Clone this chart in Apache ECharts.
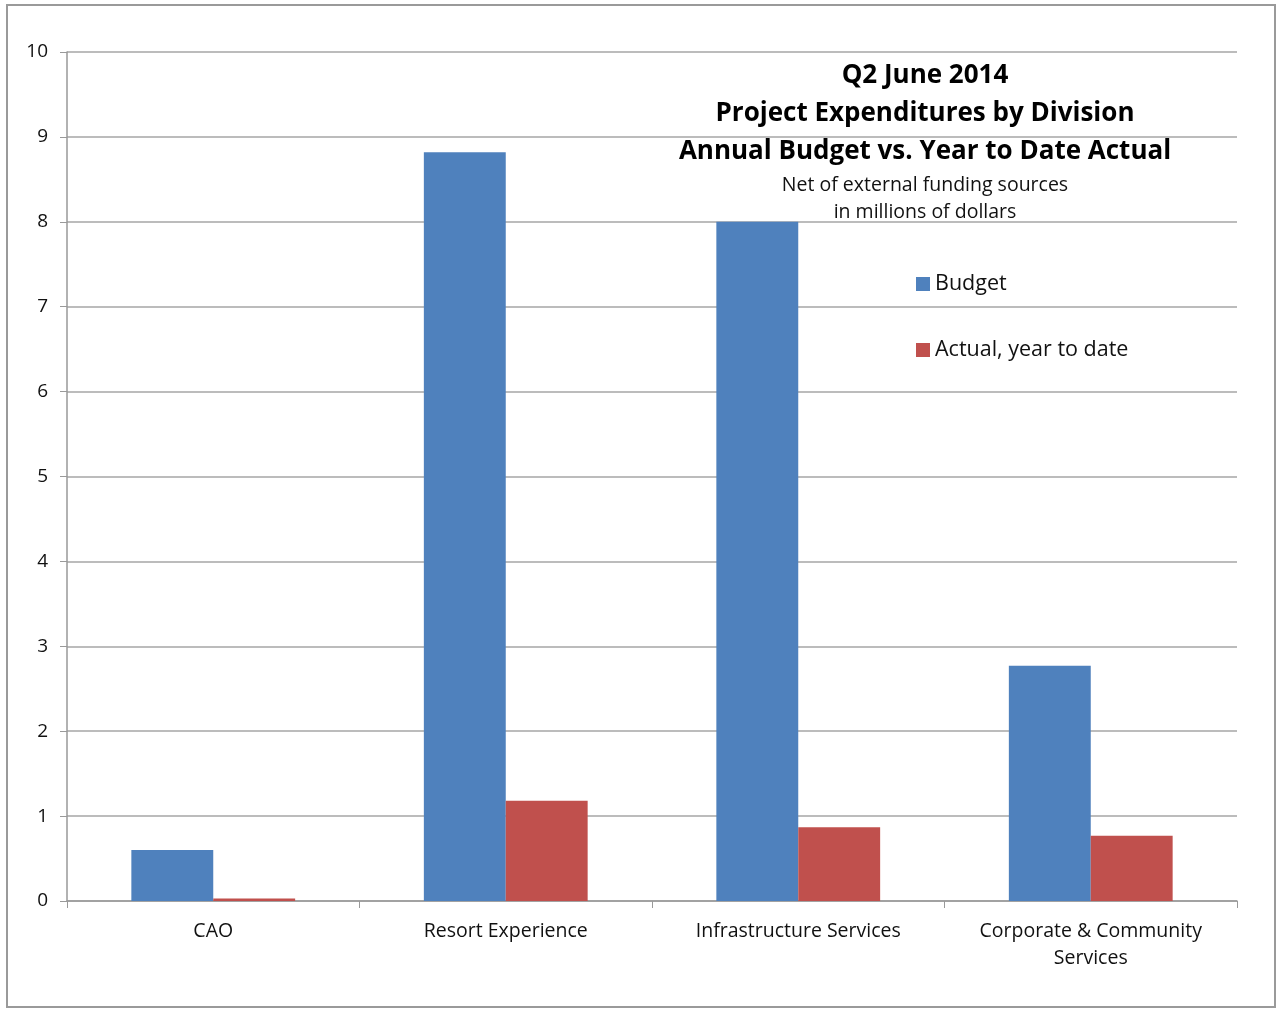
<!DOCTYPE html>
<html>
<head>
<meta charset="utf-8">
<script src="https://cdn.jsdelivr.net/npm/echarts@6/dist/echarts.min.js"></script>
<style>
  html, body { margin: 0; padding: 0; background: #fff; }
  #chart { width: 1280px; height: 1010px; }
</style>
</head>
<body>
<div id="chart"></div>
<script>
  // divisions on the x axis
  const categories = ['CAO', 'Resort Experience', 'Infrastructure Services', 'Corporate & Community\nServices']
  // millions of dollars
  const budget = [0.60, 8.82, 8.00, 2.77]
  const actual = [0.03, 1.18, 0.87, 0.77]
  const yTicks = [0, 1, 2, 3, 4, 5, 6, 7, 8, 9, 10]

  const titleLines = ['Q2 June 2014', 'Project Expenditures by Division', 'Annual Budget vs. Year to Date Actual']
  const subLines = ['Net of external funding sources', 'in millions of dollars']

  const font = '"Open Sans", "Noto Sans", sans-serif'
  const chart = echarts.init(document.getElementById('chart'))

  const graphics = [{
    type: 'rect',
    shape: { x: 7, y: 5, width: 1268, height: 1002 },
    style: { fill: null, stroke: '#9a9a9a', lineWidth: 2 },
    silent: true
  }]
  titleLines.forEach((t, i) => {
    graphics.push({
      type: 'text',
      x: 925, y: 76 + i * 38,
      style: { text: t, fontFamily: font, fontSize: 26, fontWeight: 'bold', fill: '#000', align: 'center', verticalAlign: 'middle' }
    })
  })
  subLines.forEach((t, i) => {
    graphics.push({
      type: 'text',
      x: 925, y: 185 + i * 27,
      style: { text: t, fontFamily: font, fontSize: 19.5, fill: '#111', align: 'center', verticalAlign: 'middle' }
    })
  })

  chart.setOption({
    animation: false,
    textStyle: { fontFamily: font },
    grid: { left: 67, right: 43, top: 52, bottom: 109 },
    legend: {
      orient: 'vertical',
      left: 911,
      top: 268,
      itemWidth: 14,
      itemHeight: 14,
      itemGap: 44,
      icon: 'rect',
      textStyle: { fontSize: 21.5, color: '#111', fontFamily: font },
      data: ['Budget', 'Actual, year to date']
    },
    xAxis: {
      type: 'category',
      data: categories,
      axisLine: { lineStyle: { color: '#999', width: 1.5 } },
      axisTick: { show: true, length: 7, lineStyle: { color: '#999' } },
      axisLabel: { fontSize: 19.5, color: '#111', margin: 17, lineHeight: 27, interval: 0 }
    },
    yAxis: {
      type: 'value',
      min: yTicks[0],
      max: yTicks[yTicks.length - 1],
      interval: 1,
      axisLine: { show: true, lineStyle: { color: '#999', width: 1.5 } },
      axisTick: { show: true, length: 7, lineStyle: { color: '#999' } },
      axisLabel: { fontSize: 19, color: '#111', margin: 19 },
      splitLine: { lineStyle: { color: '#a6a6a6', width: 1.5 } }
    },
    series: [{
      name: 'Budget',
      type: 'bar',
      data: budget,
      barGap: '0%',
      barCategoryGap: '44%',
      itemStyle: { color: '#4F81BD' }
    }, {
      name: 'Actual, year to date',
      type: 'bar',
      data: actual,
      itemStyle: { color: '#C0504D' }
    }],
    graphic: graphics
  })
</script>
</body>
</html>
